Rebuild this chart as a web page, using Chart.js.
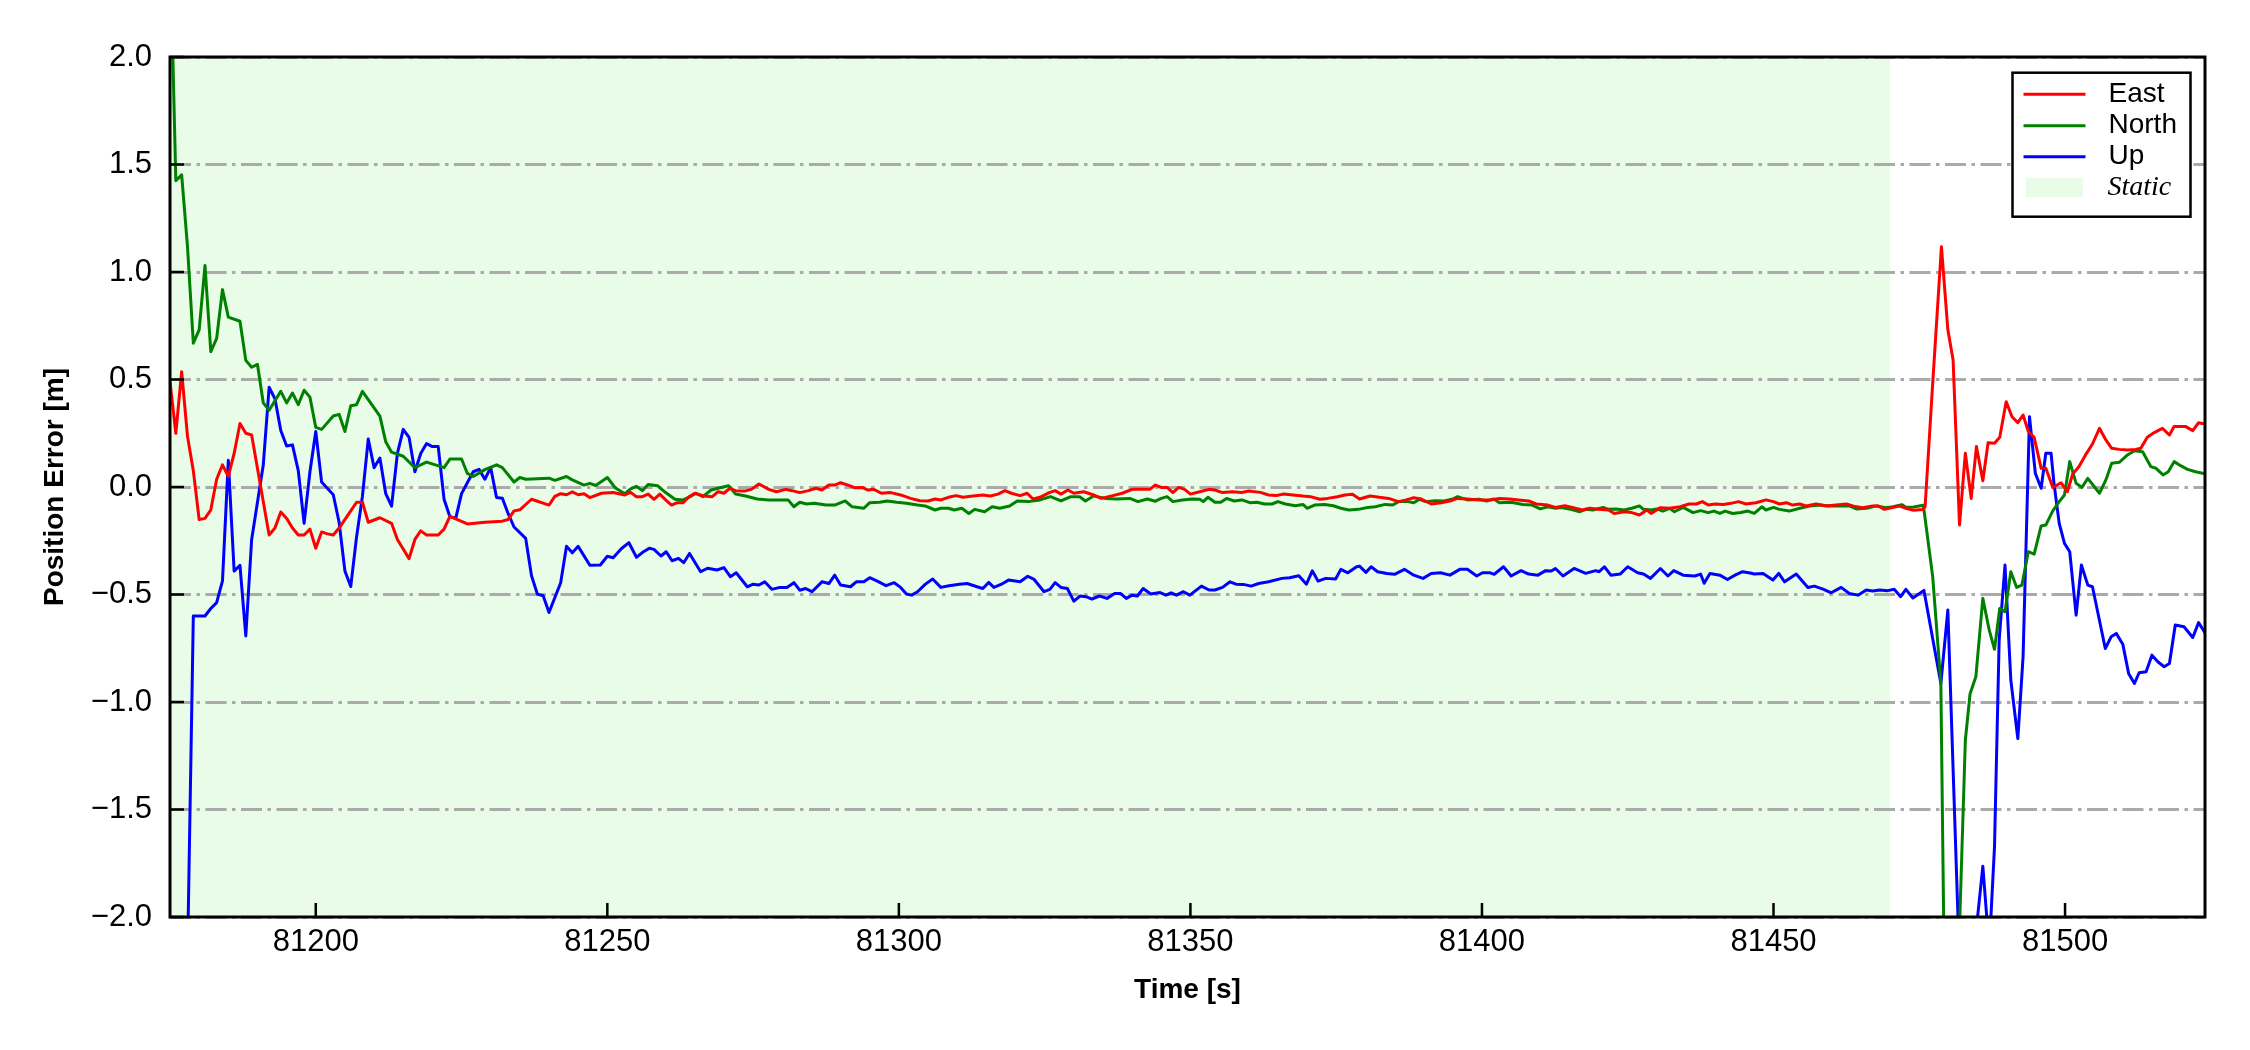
<!DOCTYPE html>
<html>
<head>
<meta charset="utf-8">
<script src="https://cdn.jsdelivr.net/npm/chart.js@4.4.1/dist/chart.umd.min.js"></script>
<style>
  html, body { margin: 0; padding: 0; background: #ffffff; }
  #c { display: block; }
</style>
</head>
<body>
<canvas id="c" width="2250" height="1050"></canvas>
<script>
// ---------------- data ----------------
const seriesNames = ['East', 'North', 'Up'];
const staticLabel = 'Static';
const staticStart = 81175;
const staticEnd = 81470;
const xMin = 81175, xMax = 81524;
const yMin = -2, yMax = 2;
const xTicks = [81200, 81250, 81300, 81350, 81400, 81450, 81500];
const yTicks = [-2.0, -1.5, -1.0, -0.5, 0.0, 0.5, 1.0, 1.5, 2.0];
const xTitle = 'Time [s]';
const yTitle = 'Position Error [m]';

const eastT = [81175,81176,81177,81178,81179,81180,81181,81182,81183,81184,81185,81186,81187,81188,81189,81192,81193,81194,81195,81196,81197,81198,81199,81200,81201,81202,81203,81204,81206,81207,81208,81209,81211,81213,81214,81216,81217,81218,81219,81221,81222,81223,81226,81229,81232,81233,81234,81235,81237,81240,81241,81242,81243,81244,81245,81246,81247,
81249,81251,81253,81254,81255,81256,81257,81258,81259,81260,81261,81262,81263,81264,81265,81266.5,81268,81269,81270,81271,81272,81273.5,81274.7,81276,81277.7,81279,81280.6,81281.7,81283,81284.5,81285.8,81286.8,81288,81289,81290,81291.3,81292.4,81293.7,81294.7,81295.7,81297,81298.6,81300.3,81302,81303.6,81305,81306.2,81307.2,81308.5,81309.8,81311,81312.7,81314.4,81315.7,81317,81318.2,81319.3,81320.8,81322,81323,81324.2,81325.8,81326.8,81327.8,81329,81330,81331.7,81333.4,81334.7,81336.7,81338.3,81340,81342,
81343,81344,81345,81346,81347,81348,81349,81350,81351.6,81353.2,81354.2,81355.5,81357.2,81358.8,81360,81362,81363.4,81364.7,81366,81367.6,81369.3,81370.6,81372.2,81373.5,81375.2,81376.5,81377.8,81379,81380.8,81382.4,81384,81385.7,81387,81388.3,81389.6,81391.3,81393,81394.5,81395.8,81397.5,81399.5,81401.4,81403,81404.7,81406.3,81408,81409.3,81411.3,81412.6,81414.2,81415.5,81417.2,81418.5,81420,81421.7,81422.7,81424.4,81425.7,81427,81428.3,81429,81430.6,81432.2,81434,81435.5,81436.8,81437.8,81438.8,81440,81441.4,81442.7,81444,
81445.3,81447,81448.7,81450,81451,81452.2,81453.3,81454.5,81455.6,81457.3,81459,81460.7,81462.5,81464,81465.3,81467,81468,81469,81470.4,81471.6,81472.7,81474,81475.6,81476,
81477.3,81478.8,81479.9,81480.8,81481.9,81482.9,81483.9,81484.8,81485.9,81486.8,81487.9,81488.8,81489.9,81490.9,81491.9,81492.8,81493.7,81494.7,81495.9,81496.7,81497.9,81499.3,81500.4,81501.3,81502.4,81503.6,81504.7,81505.9,81507,81508,81509.3,81510.7,81512.1,81513,81514.1,81515.3,81516.7,81517.9,81518.7,81520.7,81521.9,81522.9,81524];
const eastV = [0.49,0.25,0.536,0.236,0.076,-0.151,-0.146,-0.106,0.036,0.103,0.049,0.156,0.295,0.25,0.242,-0.223,-0.191,-0.116,-0.146,-0.191,-0.223,-0.223,-0.196,-0.285,-0.209,-0.218,-0.223,-0.191,-0.111,-0.071,-0.071,-0.164,-0.143,-0.169,-0.244,-0.333,-0.244,-0.204,-0.223,-0.223,-0.196,-0.137,-0.172,-0.164,-0.159,-0.151,-0.111,-0.106,-0.057,-0.084,-0.044,-0.031,-0.036,-0.023,-0.036,-0.031,-0.049,
-0.029,-0.026,-0.037,-0.025,-0.045,-0.045,-0.033,-0.057,-0.033,-0.06,-0.084,-0.073,-0.073,-0.045,-0.029,-0.042,-0.045,-0.022,-0.029,-0.006,-0.017,-0.019,-0.011,0.014,-0.011,-0.022,-0.011,-0.017,-0.026,-0.017,-0.006,-0.014,0.009,0.009,0.02,0.009,-0.003,-0.002,-0.014,-0.011,-0.029,-0.026,-0.037,-0.053,-0.064,-0.065,-0.056,-0.06,-0.048,-0.04,-0.048,-0.042,-0.037,-0.042,-0.033,-0.017,-0.029,-0.04,-0.029,-0.056,-0.048,-0.026,-0.017,-0.033,-0.014,-0.029,-0.022,-0.037,-0.053,-0.04,-0.029,-0.011,-0.011,
-0.011,0.009,-0.002,-0.002,-0.026,-0.002,-0.011,-0.033,-0.022,-0.011,-0.014,-0.026,-0.022,-0.026,-0.019,-0.025,-0.037,-0.04,-0.033,-0.037,-0.042,-0.045,-0.057,-0.053,-0.045,-0.037,-0.034,-0.056,-0.042,-0.048,-0.053,-0.068,-0.06,-0.05,-0.056,-0.079,-0.073,-0.065,-0.053,-0.056,-0.06,-0.06,-0.053,-0.056,-0.06,-0.065,-0.079,-0.084,-0.095,-0.087,-0.095,-0.107,-0.099,-0.104,-0.107,-0.123,-0.115,-0.119,-0.13,-0.107,-0.123,-0.096,-0.099,-0.092,-0.079,-0.079,-0.068,-0.084,-0.079,-0.081,-0.076,-0.068,
-0.079,-0.073,-0.06,-0.068,-0.079,-0.073,-0.084,-0.079,-0.088,-0.079,-0.088,-0.084,-0.079,-0.091,-0.096,-0.088,-0.088,-0.104,-0.095,-0.088,-0.099,-0.108,-0.105,-0.091,
0.482,1.118,0.731,0.591,-0.177,0.157,-0.053,0.188,0.029,0.206,0.203,0.231,0.397,0.327,0.299,0.335,0.258,0.231,0.087,0.087,-0.002,0.02,-0.022,0.06,0.095,0.153,0.2,0.273,0.219,0.18,0.175,0.172,0.175,0.18,0.231,0.253,0.273,0.242,0.281,0.281,0.262,0.299,0.293];

const northT = [81175,81176,81177,81178,81179,81180,81181,81182,81183,81184,81185,81187,81188,81189,81190,81191,81192,81194,81195,81196,81197,81198,81199,81200,81201,81203,81204,81205,81206,81207,81208,81211,81212,81213,81215,81217,81219,81222,81223,81225,81226,81227,81229,81231,81232,81234,81235,81236,81240,81241,81243,81244,81246,81247,81248,
81250,81251.4,81253,81254,81255,81256,81257,81258.6,81260,81261.6,81263,81264.2,81265.2,81266.4,81267.8,81269,81270.8,81272,81273.7,81275.7,81277.7,81281,81282,81283,81284.2,81285.5,81287.5,81289,81290.8,81292,81294,81295,81296.7,81298,81299.6,81301.3,81303.2,81304.5,81306.2,81307.2,81308.5,81309.5,81310.8,81312,81313,81314.7,81316,81317.3,81319,81320.3,81322.2,81324.2,81326,81327.8,81329.5,81331,81332,81333.4,81335.4,81337.3,81339.6,81341,81342.6,
81344,81345,81346,81347,81348.6,81350.3,81351.6,81352.2,81353,81354.2,81355.2,81356.2,81357.5,81358.8,81360.2,81361.4,81362.7,81364,81365,81366.3,81368,81369.3,81370,81371.3,81373,81374.5,81375.8,81377.2,81378.8,81380.4,81381.7,81383.4,81384.7,81385.7,81387.3,81388.3,81389.3,81390.3,81392,81393.5,81395,81395.8,81397.5,81399.5,81400.8,81402,81403,81405,81407,81408.6,81410,81411.3,81412.6,81413.6,81415.2,81416.8,81417.8,81419,81420.8,81421.7,81423,81424.4,81425.7,81427,81427.7,81429,81430,81431,81432.2,81433,81434.5,81436.2,81437.5,81438.8,81439.8,81440.8,81441.7,81443,81444.4,
81445.6,81446.7,81448,81448.7,81450,81451,81452.7,81454.5,81456.2,81458,81459.6,81461.3,81463,81464.2,81466,81467.6,81469.3,81470.5,81472,81472.7,81474,81475.7,
81477.3,81478.7,81479.7,81481,81481.9,81482.9,81483.7,81484.7,81485.9,81487,81487.9,81488.8,81489.7,81490.7,81491.7,81492.6,81493.7,81494.7,81495.9,81496.7,81497.9,81499,81499.9,81500.8,81501.9,81502.9,81503.9,81505.9,81507,81508,81509.3,81510.7,81511.9,81513.3,81514.7,81515.6,81516.8,81517.7,81518.7,81519.9,81521,81522.4,81524];
const northV = [2.55,1.425,1.452,1.118,0.669,0.731,1.03,0.629,0.691,0.918,0.79,0.771,0.589,0.557,0.57,0.391,0.357,0.445,0.391,0.437,0.383,0.45,0.418,0.277,0.268,0.33,0.338,0.258,0.378,0.383,0.445,0.33,0.21,0.162,0.143,0.09,0.116,0.09,0.13,0.13,0.063,0.049,0.081,0.103,0.09,0.023,0.044,0.036,0.041,0.031,0.049,0.033,0.009,0.017,0.007,
0.044,-0.005,-0.031,-0.009,0.003,-0.017,0.012,0.006,-0.026,-0.057,-0.06,-0.045,-0.029,-0.045,-0.014,-0.006,0.006,-0.033,-0.042,-0.056,-0.06,-0.06,-0.092,-0.071,-0.079,-0.076,-0.084,-0.084,-0.065,-0.092,-0.099,-0.073,-0.071,-0.065,-0.071,-0.076,-0.084,-0.088,-0.107,-0.099,-0.099,-0.107,-0.099,-0.123,-0.104,-0.115,-0.092,-0.099,-0.088,-0.065,-0.068,-0.06,-0.045,-0.065,-0.045,-0.045,-0.065,-0.042,-0.053,-0.056,-0.053,-0.068,-0.056,
-0.066,-0.053,-0.045,-0.068,-0.06,-0.056,-0.057,-0.068,-0.048,-0.071,-0.071,-0.053,-0.065,-0.06,-0.073,-0.071,-0.079,-0.079,-0.068,-0.079,-0.087,-0.081,-0.099,-0.084,-0.081,-0.087,-0.099,-0.107,-0.104,-0.095,-0.092,-0.081,-0.084,-0.068,-0.068,-0.073,-0.057,-0.068,-0.064,-0.065,-0.056,-0.045,-0.06,-0.057,-0.065,-0.056,-0.073,-0.071,-0.081,-0.084,-0.102,-0.092,-0.099,-0.095,-0.104,-0.115,-0.104,-0.107,-0.095,-0.104,-0.102,-0.107,-0.099,-0.088,-0.104,-0.107,-0.102,-0.112,-0.099,-0.115,-0.095,-0.119,-0.11,-0.119,-0.112,-0.123,-0.112,-0.123,-0.119,
-0.112,-0.123,-0.092,-0.107,-0.095,-0.104,-0.112,-0.099,-0.088,-0.084,-0.088,-0.087,-0.088,-0.102,-0.099,-0.088,-0.096,-0.092,-0.082,-0.094,-0.093,-0.085,
-0.417,-0.914,-3.2,-3.0,-2.05,-1.178,-0.963,-0.883,-0.518,-0.666,-0.755,-0.565,-0.58,-0.394,-0.467,-0.456,-0.301,-0.312,-0.181,-0.177,-0.111,-0.068,-0.037,0.118,0.017,-0.002,0.04,-0.029,0.033,0.11,0.115,0.149,0.169,0.164,0.095,0.087,0.056,0.071,0.118,0.098,0.082,0.071,0.061];

const upT = [81178,81179,81181,81182,81183,81184,81185,81186,81187,81188,81189,81191,81192,81193,81194,81195,81196,81197,81198,81199,81200,81201,81203,81204,81205,81206,81207,81208,81209,81210,81211,81212,81213,81214,81215,81216,81217,81218,81219,81220,81221,81222,81223,81224,81225,81227,81228,81229,81230,81231,81232,81233,81234,81236,81237,81238,81239,81240,81242,81243,81244,81245,81247,
81248.8,81250,81251,81252.4,81253.7,81255,81256,81257.2,81258,81259.2,81260.1,81261.1,81262.2,81263.1,81264.1,81266,81267.2,81268.8,81270,81271.1,81272.1,81274,81275,81276,81277,81278.2,81279.6,81280.8,81282,81283,81284,81285.1,81286.8,81288,81289,81290,81291.7,81292.7,81294,81295,81296.3,81297.8,81299.2,81300.3,81301.3,81302.2,81303.2,81304.5,81305.8,81307.2,81308.6,81310.4,81311.7,81313.4,81314.4,81315.4,81316.3,81317.6,81318.8,81320.8,81322.1,81323.2,81324.9,81325.9,81326.8,81327.8,81328.9,81330,81331.1,81332.1,81333.1,81334.4,81335.7,81337,81338,81339,81340,81340.9,81341.9,
81343.2,81344.8,81345.8,81346.7,81347.6,81348.8,81349.9,81351.9,81353.2,81354.2,81355.5,81356.8,81357.8,81359.1,81360.4,81361.7,81363.4,81365.7,81367,81368.6,81369.9,81370.9,81371.9,81373.2,81374.9,81375.8,81377,81378.5,81379,81380.1,81381,81382.1,81383.7,81385,81386.7,81388.3,81389.9,81391.3,81392.9,81394.5,81396.2,81397.5,81399.1,81400.1,81401.4,81402.1,81403.7,81405,81406.7,81408,81409.6,81410.9,81411.9,81412.6,81413.9,81415.8,81417.8,81419.5,81420.1,81421,81422.1,81423.7,81425,81426.7,81427.7,81428.9,81430.6,81431.9,81432.9,81434.5,81436.5,81437.5,81438.1,81439.1,81440.8,81442.1,81443.4,81444.7,
81446,81446.7,81448.2,81449.9,81450.9,81451.9,81453.9,81455.9,81457,81458.5,81459.9,81461.6,81463,81464.5,81465.9,81467,81468.2,81469.6,81470.7,81471.8,81472.7,81473.9,81475.8,
81478.7,81479.9,81482,81483,81484.5,81485.9,81487,81487.9,81488.7,81489.7,81490.7,81491.9,81492.8,81493.9,81494.9,81495.9,81496.7,81497.6,81498.1,81499,81499.9,81500.8,81501.9,81502.8,81503.9,81504.7,81506.9,81507.9,81508.8,81509.9,81510.9,81511.9,81512.7,81513.9,81514.9,81515.9,81517,81517.9,81518.9,81520.4,81521.9,81522.9,81524];
const upV = [-2.2,-0.6,-0.6,-0.565,-0.538,-0.437,0.124,-0.391,-0.364,-0.693,-0.245,0.103,0.464,0.41,0.263,0.191,0.196,0.076,-0.169,0.071,0.258,0.023,-0.036,-0.164,-0.391,-0.463,-0.231,-0.044,0.223,0.09,0.135,-0.031,-0.089,0.156,0.268,0.231,0.071,0.156,0.202,0.188,0.188,-0.057,-0.138,-0.146,-0.031,0.071,0.082,0.036,0.09,-0.049,-0.052,-0.124,-0.186,-0.239,-0.413,-0.498,-0.506,-0.584,-0.445,-0.276,-0.306,-0.276,-0.364,
-0.363,-0.322,-0.329,-0.287,-0.259,-0.327,-0.305,-0.285,-0.29,-0.321,-0.301,-0.343,-0.332,-0.352,-0.309,-0.394,-0.378,-0.386,-0.375,-0.417,-0.399,-0.464,-0.452,-0.456,-0.441,-0.476,-0.467,-0.467,-0.445,-0.48,-0.472,-0.487,-0.441,-0.449,-0.41,-0.456,-0.464,-0.441,-0.441,-0.422,-0.438,-0.459,-0.445,-0.467,-0.498,-0.503,-0.487,-0.453,-0.428,-0.467,-0.459,-0.452,-0.449,-0.464,-0.472,-0.444,-0.467,-0.452,-0.433,-0.441,-0.415,-0.43,-0.487,-0.476,-0.445,-0.467,-0.472,-0.531,-0.507,-0.51,-0.521,-0.507,-0.518,-0.495,-0.495,-0.518,-0.503,-0.507,-0.472,
-0.498,-0.491,-0.503,-0.492,-0.503,-0.487,-0.503,-0.461,-0.479,-0.479,-0.467,-0.441,-0.452,-0.453,-0.461,-0.449,-0.441,-0.425,-0.422,-0.413,-0.452,-0.39,-0.438,-0.425,-0.428,-0.383,-0.399,-0.371,-0.368,-0.397,-0.371,-0.394,-0.402,-0.406,-0.383,-0.41,-0.425,-0.402,-0.399,-0.41,-0.383,-0.383,-0.414,-0.399,-0.399,-0.406,-0.371,-0.414,-0.389,-0.405,-0.41,-0.389,-0.391,-0.379,-0.414,-0.379,-0.402,-0.389,-0.394,-0.371,-0.41,-0.405,-0.371,-0.399,-0.405,-0.425,-0.379,-0.414,-0.389,-0.41,-0.414,-0.405,-0.448,-0.402,-0.41,-0.43,-0.41,-0.394,
-0.4,-0.405,-0.402,-0.433,-0.402,-0.441,-0.405,-0.467,-0.461,-0.475,-0.492,-0.467,-0.495,-0.503,-0.479,-0.484,-0.479,-0.482,-0.476,-0.51,-0.476,-0.516,-0.481,
-0.914,-0.572,-2.3,-2.7,-2.13,-1.764,-2.15,-1.674,-0.712,-0.363,-0.898,-1.17,-0.79,0.327,0.064,-0.006,0.157,0.157,0.017,-0.169,-0.262,-0.301,-0.596,-0.363,-0.456,-0.464,-0.751,-0.697,-0.681,-0.731,-0.867,-0.914,-0.864,-0.859,-0.782,-0.813,-0.836,-0.821,-0.642,-0.65,-0.7,-0.631,-0.678];

const seriesColors = ['#ff0000', '#008000', '#0000ff'];
const staticColor = '#e8fce8';

// ---------------- build ----------------
function toPoints(t, v) { return t.map((x, i) => ({ x: x, y: v[i] })); }
const seriesT = [eastT, northT, upT];
const seriesV = [eastV, northV, upV];

const datasets = seriesNames.map((name, i) => ({
  label: name,
  data: toPoints(seriesT[i], seriesV[i]),
  borderColor: seriesColors[i],
  backgroundColor: seriesColors[i],
  borderWidth: 3,
  pointRadius: 0,
  tension: 0,
  fill: false,
  borderJoinStyle: 'round',
  borderCapStyle: 'round',
  clip: 0
}));

const SANS = "'Liberation Sans', Arial, sans-serif";
const SERIF = "'Liberation Serif', 'Times New Roman', serif";

const backgroundPlugin = {
  id: 'bgStatic',
  beforeDraw(chart) {
    const { ctx, chartArea, scales } = chart;
    ctx.save();
    ctx.fillStyle = '#ffffff';
    ctx.fillRect(0, 0, chart.width, chart.height);
    const x0 = scales.x.getPixelForValue(staticStart);
    const x1 = scales.x.getPixelForValue(staticEnd);
    ctx.fillStyle = staticColor;
    ctx.fillRect(Math.max(x0, chartArea.left), chartArea.top,
      Math.min(x1, chartArea.right) - Math.max(x0, chartArea.left), chartArea.bottom - chartArea.top);
    ctx.restore();
  }
};

const framePlugin = {
  id: 'frameTicks',
  afterDatasetsDraw(chart) {
    const { ctx, chartArea, scales } = chart;
    const a = chartArea;
    ctx.save();
    ctx.strokeStyle = '#000000';
    ctx.lineWidth = 2.5;
    const tl = 14;
    ctx.beginPath();
    xTicks.forEach(v => {
      const px = scales.x.getPixelForValue(v);
      ctx.moveTo(px, a.bottom);
      ctx.lineTo(px, a.bottom - tl);
    });
    yTicks.forEach(v => {
      const py = scales.y.getPixelForValue(v);
      ctx.moveTo(a.left, py);
      ctx.lineTo(a.left + tl, py);
    });
    ctx.stroke();
    ctx.lineWidth = 3;
    ctx.strokeRect(a.left, a.top, a.right - a.left, a.bottom - a.top);
    ctx.restore();
  },
  afterDraw(chart) {
    const { ctx, chartArea } = chart;
    const a = chartArea;
    const bx1 = a.right - 14.5, bx0 = bx1 - 178;
    const by0 = a.top + 15.7, by1 = by0 + 144;
    ctx.save();
    ctx.fillStyle = '#ffffff';
    ctx.fillRect(bx0, by0, bx1 - bx0, by1 - by0);
    ctx.strokeStyle = '#000000';
    ctx.lineWidth = 2.5;
    ctx.strokeRect(bx0, by0, bx1 - bx0, by1 - by0);
    const rowY = [by0 + 21.6, by0 + 53, by0 + 84, by0 + 114.8];
    const lx0 = bx0 + 11, lx1 = bx0 + 73, tx = bx0 + 96;
    ctx.textBaseline = 'middle';
    ctx.textAlign = 'left';
    seriesNames.forEach((name, i) => {
      ctx.strokeStyle = seriesColors[i];
      ctx.lineWidth = 3;
      ctx.beginPath();
      ctx.moveTo(lx0, rowY[i]);
      ctx.lineTo(lx1, rowY[i]);
      ctx.stroke();
      ctx.fillStyle = '#000000';
      ctx.font = '28px ' + SANS;
      ctx.fillText(name, tx, rowY[i]);
    });
    ctx.fillStyle = staticColor;
    ctx.fillRect(lx0 + 2.5, rowY[3] - 9.5, 57, 19);
    ctx.fillStyle = '#000000';
    ctx.font = 'italic 28px ' + SERIF;
    ctx.fillText(staticLabel, tx - 1, rowY[3]);
    ctx.restore();
  }
};

const fmtY = v => (v < 0 ? '\u2212' : '') + Math.abs(v).toFixed(1);

new Chart(document.getElementById('c'), {
  type: 'line',
  data: { datasets: datasets },
  options: {
    responsive: false,
    devicePixelRatio: 1,
    animation: false,
    parsing: true,
    layout: { padding: { left: 0, right: 45, top: 57, bottom: 0 } },
    plugins: { legend: { display: false }, tooltip: { enabled: false } },
    scales: {
      x: {
        type: 'linear',
        min: xMin,
        max: xMax,
        afterBuildTicks: s => { s.ticks = xTicks.map(v => ({ value: v })); },
        afterFit: s => { s.height = 133; },
        grid: { display: false, drawTicks: false },
        border: { display: false },
        ticks: {
          autoSkip: false, maxRotation: 0, minRotation: 0,
          padding: 7, color: '#000000',
          font: { family: SANS, size: 31 },
          callback: v => String(v)
        },
        title: {
          display: true, text: xTitle, color: '#000000',
          font: { family: SANS, size: 28, weight: 'bold' },
          padding: { top: 0, bottom: 43 }
        }
      },
      y: {
        type: 'linear',
        min: yMin,
        max: yMax,
        afterBuildTicks: s => { s.ticks = yTicks.map(v => ({ value: v })); },
        afterFit: s => { s.width = 170; },
        grid: { display: true, drawTicks: false, color: '#aaaaaa', lineWidth: 3 },
        border: { display: false, dash: [21, 5.5, 3.5, 5.5] },
        ticks: {
          padding: 18, color: '#000000',
          font: { family: SANS, size: 31 },
          callback: v => fmtY(v)
        },
        title: {
          display: true, text: yTitle, color: '#000000',
          font: { family: SANS, size: 28, weight: 'bold' },
          padding: { top: 38, bottom: 0 }
        }
      }
    }
  },
  plugins: [backgroundPlugin, framePlugin]
});
</script>
</body>
</html>
